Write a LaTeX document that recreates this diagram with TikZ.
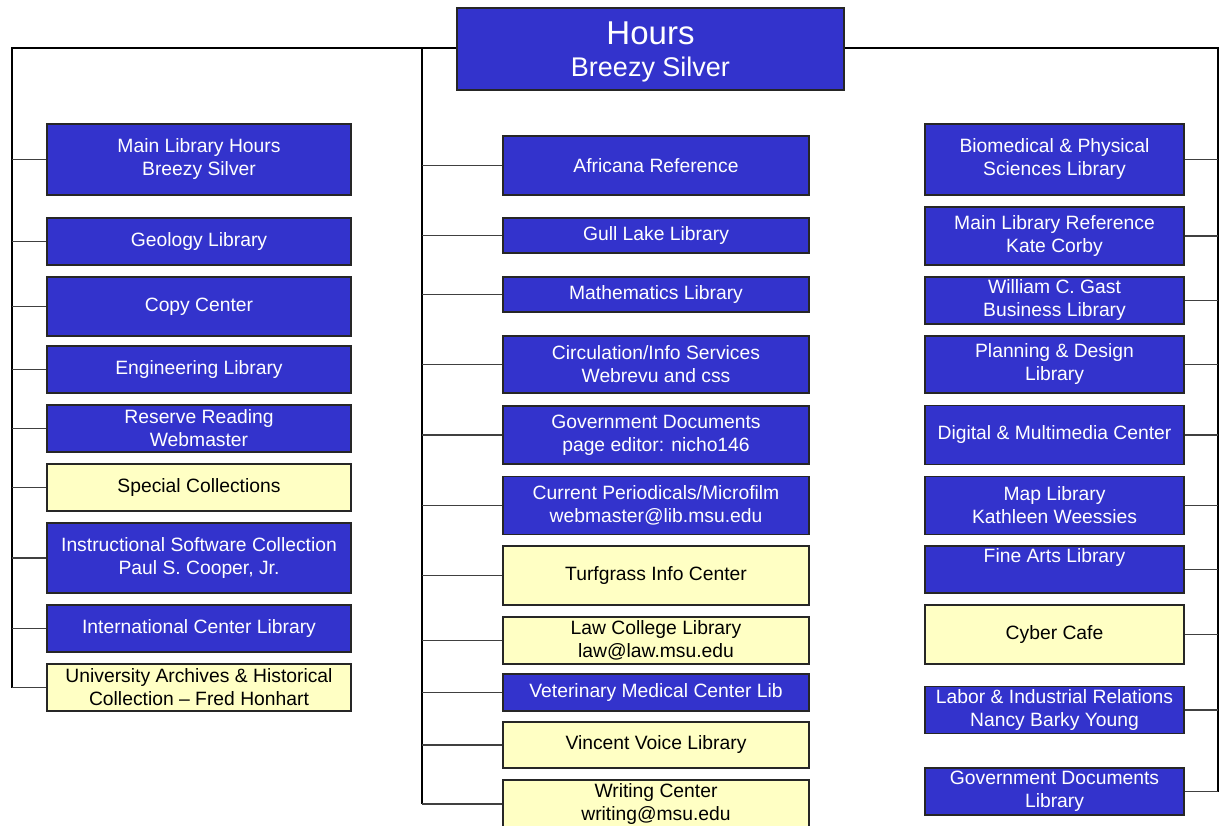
\documentclass[tikz,border=0pt]{standalone}
\usepackage{fontspec}
\setmainfont{Liberation Sans}
\definecolor{boxblue}{HTML}{3333CC}
\definecolor{boxyellow}{HTML}{FFFFC4}
\definecolor{boxline}{HTML}{262626}
\definecolor{stubline}{HTML}{404040}
\begin{document}
\begin{tikzpicture}[x=1pt,y=-1pt,
  base/.style={draw=boxline, line width=1.6pt, inner sep=0pt, align=center,
    font=\fontsize{19.3}{23}\selectfont},
  bluebox/.style={base, fill=boxblue, text=white},
  yellowbox/.style={base, fill=boxyellow, text=black},
  lcol/.style={minimum width=304pt},
  mcol/.style={minimum width=306pt},
  rcol/.style={minimum width=259pt},
  trunk/.style={draw=black, line width=1.6pt},
  stub/.style={draw=stubline, line width=1.6pt}]
\clip (0,0) rectangle (1225,826);
\fill[white] (0,0) rectangle (1225,826);

% top
\node[bluebox, minimum width=387pt, minimum height=82pt] (top) at (650.5,49) {};
\node[text=white, align=center, inner sep=0pt] (toptext) at ([yshift=-3pt]top.center)
  {{\fontsize{33}{33}\selectfont Hours}\\[12pt]{\fontsize{27}{27}\selectfont Breezy Silver}};

\coordinate (ltr) at (12,48);
\coordinate (mtr) at (422,48);
\coordinate (rtr) at (1218,48);

% left column
\node[bluebox, lcol, minimum height=71pt] (l1) at (199,159.5) {Main Library Hours\\Breezy Silver};
\node[bluebox, lcol, minimum height=47pt] (l2) at (199,241.5) {Geology Library};
\node[bluebox, lcol, minimum height=59pt] (l3) at (199,306.5) {Copy Center};
\node[bluebox, lcol, minimum height=47pt] (l4) at (199,369.5) {Engineering Library};
\node[bluebox, lcol, minimum height=47pt] (l5) at (199,428.5) {Reserve Reading\\Webmaster};
\node[yellowbox, lcol, minimum height=47pt] (l6) at (199,487.5) {Special Collections};
\node[bluebox, lcol, minimum height=70pt] (l7) at (199,558) {Instructional Software Collection\\Paul S. Cooper, Jr.};
\node[bluebox, lcol, minimum height=47pt] (l8) at (199,628.5) {International Center Library};
\node[yellowbox, lcol, minimum height=47pt] (l9) at (199,687.5) {University Archives \& Historical\\Collection -- Fred Honhart};

% middle column
\node[bluebox, mcol, minimum height=59pt] (m1) at (656,165.5) {Africana Reference};
\node[bluebox, mcol, minimum height=35pt] (m2) at (656,235.5) {Gull Lake Library};
\node[bluebox, mcol, minimum height=35pt] (m3) at (656,294.5) {Mathematics Library};
\node[bluebox, mcol, minimum height=57pt] (m4) at (656,364.5) {Circulation/Info Services\\Webrevu and css};
\node[bluebox, mcol, minimum height=58pt] (m5) at (656,435) {Government Documents\\page editor: nicho146};
\node[bluebox, mcol, minimum height=58pt] (m6) at (656,505.5) {Current Periodicals/Microfilm\\webmaster@lib.msu.edu};
\node[yellowbox, mcol, minimum height=59pt] (m7) at (656,575.5) {Turfgrass Info Center};
\node[yellowbox, mcol, minimum height=47pt] (m8) at (656,640.5) {Law College Library\\law@law.msu.edu};
\node[bluebox, mcol, minimum height=37pt] (m9) at (656,692.5) {Veterinary Medical Center Lib};
\node[yellowbox, mcol, minimum height=46pt] (m10) at (656,745) {Vincent Voice Library};
\node[yellowbox, mcol, minimum height=48pt] (m11) at (656,804) {Writing Center\\writing@msu.edu};

% right column
\node[bluebox, rcol, minimum height=71pt] (r1) at (1054.5,159.5) {Biomedical \& Physical\\Sciences Library};
\node[bluebox, rcol, minimum height=58pt] (r2) at (1054.5,236) {Main Library Reference\\Kate Corby};
\node[bluebox, rcol, minimum height=47pt] (r3) at (1054.5,300.5) {William C. Gast\\Business Library};
\node[bluebox, rcol, minimum height=57pt] (r4) at (1054.5,364.5) {Planning \& Design\\Library};
\node[bluebox, rcol, minimum height=59pt] (r5) at (1054.5,435) {Digital \& Multimedia Center};
\node[bluebox, rcol, minimum height=58pt] (r6) at (1054.5,505.5) {Map Library\\Kathleen Weessies};
\node[bluebox, rcol, minimum height=47pt] (r7) at (1054.5,569.5) {};
\node[text=white, font=\fontsize{19.3}{23}\selectfont, anchor=north, inner sep=0pt] (r7t) at ([yshift=-3pt]r7.north) {Fine Arts Library};
\node[yellowbox, rcol, minimum height=59pt] (r8) at (1054.5,634.5) {Cyber Cafe};
\node[bluebox, rcol, minimum height=47pt] (r9) at (1054.5,710) {Labor \& Industrial Relations\\Nancy Barky Young};
\node[bluebox, rcol, minimum height=47pt] (r10) at (1054.5,791.5) {Government Documents\\Library};

% trunks
\draw[trunk] (top.west |- ltr) -- (ltr) -- (ltr |- l9.west);
\draw[trunk] (mtr) -- (mtr |- m11.west);
\draw[trunk] (top.east |- rtr) -- (rtr) -- (rtr |- r10.east);

% stubs
\foreach \n in {l1,l2,l3,l4,l5,l6,l7,l8,l9}
  \draw[stub] (\n.west) -- (\n.west -| ltr);
\foreach \n in {m1,m2,m3,m4,m5,m6,m7,m8,m9,m10,m11}
  \draw[stub] (\n.west) -- (\n.west -| mtr);
\foreach \n in {r1,r2,r3,r4,r5,r6,r7,r8,r9,r10}
  \draw[stub] (\n.east) -- (\n.east -| rtr);
\end{tikzpicture}
\end{document}
